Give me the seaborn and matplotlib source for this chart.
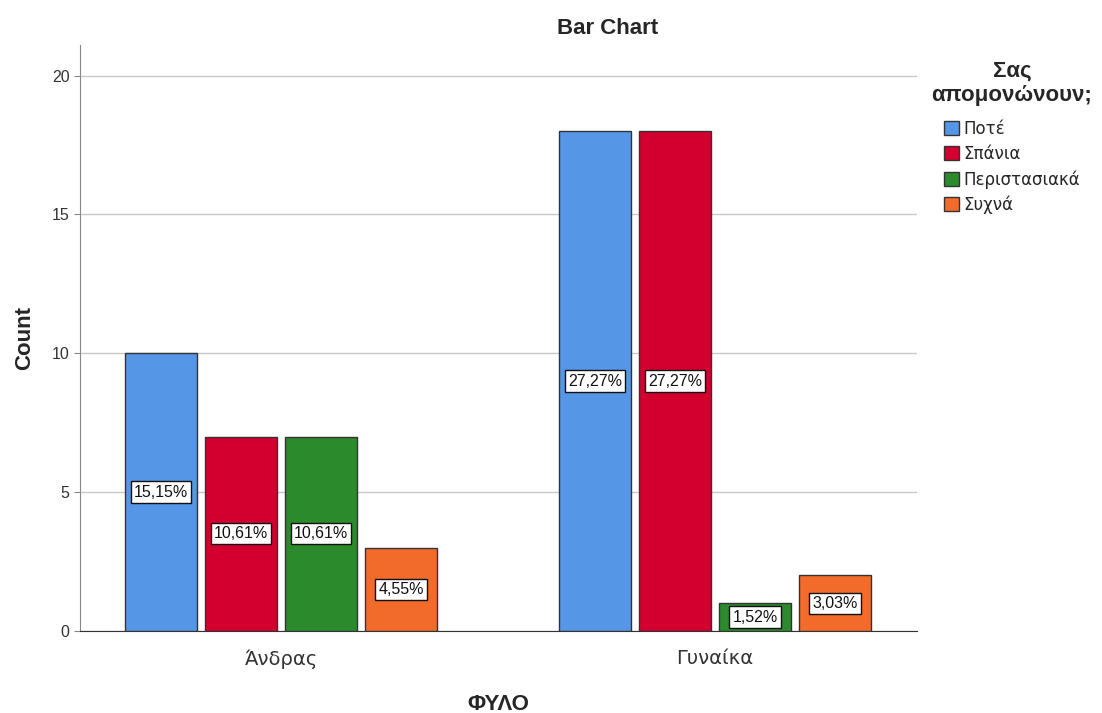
import numpy as np
import pandas as pd
import matplotlib
matplotlib.use('Agg')
import matplotlib.pyplot as plt
import seaborn as sns

# data
genders = ['Άνδρας', 'Γυναίκα']
answers = ['Ποτέ', 'Σπάνια', 'Περιστασιακά', 'Συχνά']
counts_men = [10, 7, 7, 3]
counts_women = [18, 18, 1, 2]
colors = ['#5596E6', '#D3002F', '#2B8A2B', '#F26B2B']

rows = []
for g, vals in zip(genders, [counts_men, counts_women]):
    for a, v in zip(answers, vals):
        rows.append({'ΦΥΛΟ': g, 'ans': a, 'Count': v})
df = pd.DataFrame(rows)
total = df['Count'].sum()

sns.set_style('white')
plt.rcParams['font.family'] = ['Liberation Sans', 'DejaVu Sans']

fig = plt.figure(figsize=(11.02, 7.13), dpi=100)
ax = fig.add_axes([80 / 1102, 82 / 713, 837 / 1102, 586 / 713])

sns.barplot(data=df, x='ΦΥΛΟ', y='Count', hue='ans', hue_order=answers,
            order=genders, palette=colors, width=0.737, gap=0.1,
            edgecolor='#333333', linewidth=1, saturation=1, ax=ax, zorder=3)

ax.set_xlim(-0.463, 1.465)
ax.set_ylim(0, 21.1)
ax.set_yticks([0, 5, 10, 15, 20])
ax.yaxis.grid(True, color='#c8c8c8', linewidth=1, zorder=0)
ax.set_axisbelow(True)
for s in ['top', 'right']:
    ax.spines[s].set_visible(False)
ax.spines['left'].set_color('#888888')
ax.spines['bottom'].set_color('#333333')
ax.tick_params(axis='y', labelsize=11.5, labelcolor='#333333', length=4, color='#888888', left=True)
ax.tick_params(axis='x', length=0, pad=13)
for lbl in ax.get_xticklabels():
    lbl.set_fontfamily('DejaVu Sans')
    lbl.set_fontsize(14)
    lbl.set_color('#333333')

ax.set_xlabel('ΦΥΛΟ', fontsize=16, fontweight='bold', labelpad=18)
ax.set_ylabel('Count', fontsize=16, fontweight='bold', labelpad=12)

for cont in ax.containers:
    for bar in cont:
        h = bar.get_height()
        pct = h / total * 100
        txt = f'{pct:.2f}%'.replace('.', ',')
        ax.text(bar.get_x() + bar.get_width() / 2, h / 2, txt,
                ha='center', va='center', fontsize=11.5, color='#111111', zorder=5,
                bbox=dict(boxstyle='square,pad=0.2', facecolor='white',
                          edgecolor='#111111', linewidth=1))

fig.text(608 / 1102, 1 - 28 / 713, 'Bar Chart', ha='center', va='center',
         fontsize=16, fontweight='bold')

handles, labels = ax.get_legend_handles_labels()
leg = ax.legend(handles, labels, title='Σας\nαπομονώνουν;', frameon=False,
                loc='upper center', bbox_to_anchor=(1012 / 1102, 1 - 61 / 713),
                bbox_transform=fig.transFigure,
                prop={'family': 'DejaVu Sans', 'size': 12},
                handlelength=0.9, handleheight=0.9, handletextpad=0.3,
                labelspacing=0.42, borderaxespad=0, borderpad=0,
                alignment='center')
leg.get_title().set_fontweight('bold')
leg.get_title().set_fontsize(16)
leg.get_title().set_multialignment('center')
leg._legend_box.sep += 5

fig.savefig('out.png', dpi=100)
